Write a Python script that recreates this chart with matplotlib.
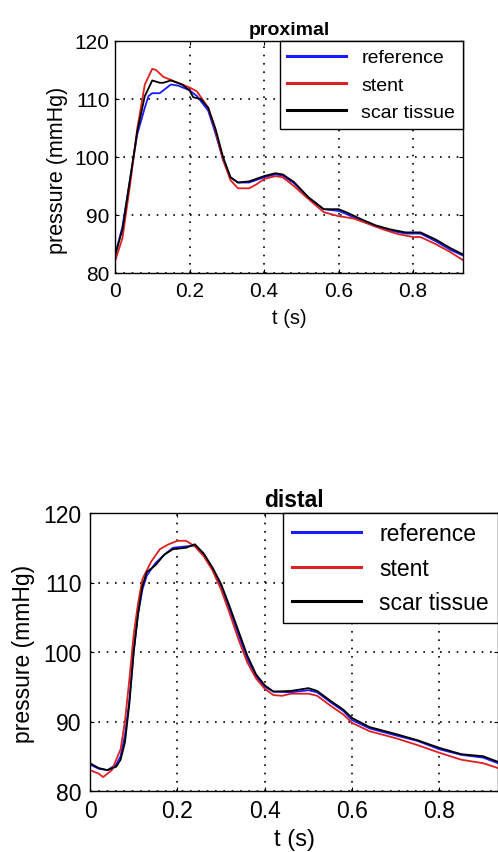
import matplotlib.pyplot as plt

plt.rcParams['font.family'] = ['Liberation Sans', 'DejaVu Sans']

# proximal data
t_prox_ref = [0, 0.02, 0.04, 0.06, 0.08, 0.09, 0.10, 0.12, 0.13, 0.15, 0.17, 0.20, 0.22, 0.25, 0.27, 0.29,
              0.31, 0.33, 0.36, 0.40, 0.43, 0.45, 0.48, 0.52, 0.56, 0.60, 0.62, 0.66, 0.70, 0.74, 0.78, 0.82,
              0.86, 0.90, 0.934]
p_prox_ref = [83, 88, 96, 104, 108.5, 110.5, 111, 111, 111.5, 112.5, 112.3, 111.5, 110.5, 108, 104, 99.5,
              96.5, 95.6, 95.6, 96.5, 97, 96.8, 95.5, 93, 91, 90.7, 90.2, 89, 88, 87.3, 86.8, 86.8,
              85.5, 84, 83]

t_prox_stent = [0, 0.02, 0.04, 0.06, 0.08, 0.10, 0.11, 0.13, 0.15, 0.18, 0.20, 0.22, 0.25, 0.27, 0.29, 0.31,
                0.33, 0.36, 0.38, 0.40, 0.43, 0.45, 0.48, 0.52, 0.56, 0.60, 0.64, 0.68, 0.72, 0.76, 0.80,
                0.82, 0.86, 0.90, 0.934]
p_prox_stent = [82, 86, 95, 105, 112.5, 115.2, 115, 113.8, 113.3, 112.5, 112, 111.3, 108.5, 104.5, 99.5, 96,
                94.6, 94.6, 95.3, 96.2, 96.7, 96.5, 95, 92.7, 90.5, 89.8, 89.4, 88.5, 87.5, 86.7, 86.2,
                86.2, 85, 83.6, 82.2]

t_prox_scar = [0, 0.02, 0.04, 0.06, 0.08, 0.10, 0.12, 0.13, 0.15, 0.18, 0.20, 0.21, 0.23, 0.25, 0.27, 0.29,
               0.31, 0.33, 0.36, 0.40, 0.43, 0.45, 0.48, 0.52, 0.56, 0.60, 0.62, 0.66, 0.70, 0.74, 0.78,
               0.82, 0.86, 0.90, 0.934]
p_prox_scar = [83, 87.5, 96, 104.5, 110.5, 113.2, 112.8, 112.8, 113.2, 112.5, 111.5, 110.3, 110, 108.5, 104.8, 100,
               96.5, 95.6, 95.8, 96.7, 97.2, 97, 95.7, 93, 91, 91, 90.5, 89.3, 88.2, 87.5, 87,
               87, 85.8, 84.3, 83.2]

# distal data
t_dist_ref = [0, 0.02, 0.04, 0.06, 0.07, 0.08, 0.09, 0.10, 0.11, 0.12, 0.13, 0.15, 0.17, 0.19, 0.22, 0.24,
              0.26, 0.28, 0.30, 0.32, 0.34, 0.36, 0.38, 0.40, 0.42, 0.46, 0.50, 0.52, 0.55, 0.58, 0.60,
              0.64, 0.70, 0.75, 0.80, 0.85, 0.90, 0.934]
p_dist_ref = [83.8, 83.2, 83, 83.8, 85, 88, 93, 100, 105.5, 109, 111, 112.8, 114, 115, 115.2, 115.3,
              114, 112, 109.5, 106, 102.5, 99, 96.5, 95, 94.3, 94.2, 94.5, 94.2, 92.8, 91.5, 90.2,
              89, 88, 87.2, 86, 85.2, 84.8, 84]

t_dist_stent = [0, 0.02, 0.03, 0.05, 0.07, 0.08, 0.09, 0.10, 0.11, 0.12, 0.14, 0.16, 0.18, 0.20, 0.22, 0.24,
                0.26, 0.28, 0.30, 0.32, 0.34, 0.36, 0.38, 0.40, 0.42, 0.44, 0.46, 0.50, 0.52, 0.55, 0.58,
                0.60, 0.64, 0.70, 0.75, 0.80, 0.85, 0.90, 0.934]
p_dist_stent = [83, 82.5, 82, 83, 86, 90, 96, 102.5, 107, 110.5, 113, 114.8, 115.5, 116, 116, 115.2,
                113.8, 111.8, 109, 105.5, 101.8, 98.5, 96.2, 94.7, 93.8, 93.7, 94, 94, 93.7, 92.3, 91,
                89.8, 88.6, 87.6, 86.6, 85.5, 84.5, 84, 83.3]

t_dist_scar = [0, 0.02, 0.04, 0.06, 0.07, 0.08, 0.09, 0.10, 0.11, 0.12, 0.13, 0.15, 0.17, 0.19, 0.22, 0.24,
               0.26, 0.28, 0.30, 0.32, 0.34, 0.36, 0.38, 0.40, 0.42, 0.46, 0.50, 0.52, 0.55, 0.58, 0.60,
               0.64, 0.70, 0.75, 0.80, 0.85, 0.90, 0.934]
p_dist_scar = [84, 83.3, 83, 83.5, 84.5, 87, 92.5, 100, 105.5, 109.5, 111.5, 112.5, 114, 114.8, 115, 115.5,
               114.2, 112.2, 109.8, 106.5, 103, 99.5, 96.8, 95.2, 94.3, 94.4, 94.8, 94.4, 93, 91.7, 90.5,
               89.2, 88.2, 87.3, 86.2, 85.3, 85, 84.2]

labels = ['reference', 'stent', 'scar tissue']
colors = ['#1a1aff', '#dd2020', 'black']
xticks = [0, 0.2, 0.4, 0.6, 0.8]
yticks = [80, 90, 100, 110, 120]

W, H = 498, 853
fig = plt.figure(figsize=(W / 100, H / 100), dpi=100)


def make_panel(rect, curves, title, fs, tick_fs, ylab_fs, xlab_fs, xlab_y, ylab_pos, pads):
    ax = fig.add_axes(rect)
    for (t, p), lab, c in zip(curves, labels, colors):
        ax.plot(t, p, color=c, lw=1.3, label=lab)
    ax.set_xlim(0, 0.934)
    ax.set_ylim(80, 120)
    ax.set_xticks(xticks)
    ax.set_xticklabels(['0', '0.2', '0.4', '0.6', '0.8'])
    ax.set_yticks(yticks)
    ax.tick_params(direction='in', labelsize=tick_fs, length=3, top=True, right=True)
    ax.tick_params(axis='x', pad=pads[0])
    ax.tick_params(axis='y', pad=pads[1])
    ax.grid(True, color='black', linestyle=(0, (1, 4)), linewidth=1.2)
    for s in ax.spines.values():
        s.set_linewidth(1.0)
    ax.set_title(title, fontsize=fs, fontweight='bold', pad=5)
    ax.set_xlabel('t (s)', fontsize=xlab_fs)
    ax.xaxis.set_label_coords(0.5, xlab_y)
    ax.xaxis.label.set_va('center')
    ax.set_ylabel('pressure (mmHg)', fontsize=ylab_fs)
    ax.yaxis.set_label_coords(*ylab_pos)
    ax.yaxis.label.set_va('center')
    leg = ax.legend(loc='upper right', borderaxespad=0, fancybox=False, edgecolor='black',
                    framealpha=1, fontsize=fs, handlelength=3.0, handletextpad=0.8)
    leg.get_frame().set_linewidth(1.0)
    for ln in leg.get_lines():
        ln.set_linewidth(2.2)
    return ax


make_panel([115 / W, 1 - 274 / H, 348 / W, 232 / H],
           [(t_prox_ref, p_prox_ref), (t_prox_stent, p_prox_stent), (t_prox_scar, p_prox_scar)],
           'proximal', 14, 15, 15.5, 14.5, -0.19, (-0.165, 0.445), (6, 4))
make_panel([90 / W, 1 - 792 / H, 408 / W, 278 / H],
           [(t_dist_ref, p_dist_ref), (t_dist_stent, p_dist_stent), (t_dist_scar, p_dist_scar)],
           'distal', 16.5, 16.5, 16.5, 17, -0.173, (-0.164, 0.495), (6, 6))

fig.savefig('out.png', dpi=100)
